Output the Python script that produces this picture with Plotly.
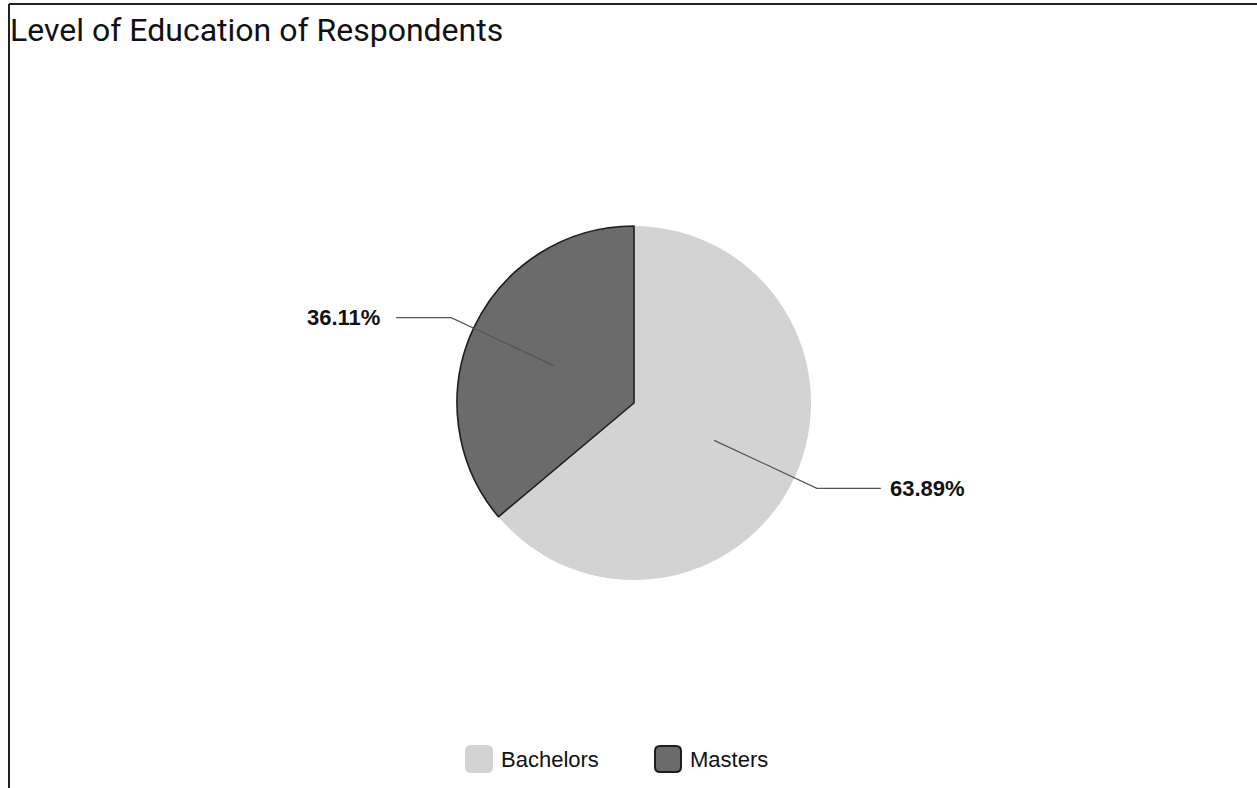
import math
import plotly.graph_objects as go

categories = ["Bachelors", "Masters"]
values = [63.89, 36.11]
colors = ["#d3d3d3", "#6b6b6b"]
outline_colors = ["#d3d3d3", "#1e1e1e"]

W, H = 1257, 788
cx, cy, R = 634, 403, 177  # pie centre / radius in px (layout)

def px_x(x):
    return x / W

def px_y(y):
    return 1 - y / H

fig = go.Figure()
fig.add_trace(go.Pie(
    labels=categories,
    values=values,
    sort=False,
    direction="clockwise",
    rotation=0,
    marker=dict(colors=colors, line=dict(color=outline_colors, width=[0, 1.6])),
    textinfo="none",
    hoverinfo="label+percent",
    showlegend=False,
    domain=dict(x=[px_x(cx - R), px_x(cx + R)], y=[px_y(cy + R), px_y(cy - R)]),
))

# leader lines + labels computed from the data
total = sum(values)
start = 90.0
shapes = []
annotations = []
for v in values:
    span = v / total * 360
    mid = math.radians(start - span / 2)
    start -= span
    x0 = cx + 0.5 * R * math.cos(mid)
    y0 = cy - 0.5 * R * math.sin(mid)
    x1 = cx + 1.14 * R * math.cos(mid)
    y1 = cy - 1.14 * R * math.sin(mid)
    side = 1 if math.cos(mid) >= 0 else -1
    x2 = x1 + side * (64 if side > 0 else 55)
    gap = 7 if side > 0 else 14
    path = f"M {px_x(x0)} {px_y(y0)} L {px_x(x1)} {px_y(y1)} L {px_x(x2)} {px_y(y1)}"
    shapes.append(dict(type="path", xref="paper", yref="paper", path=path,
                       line=dict(color="#555555", width=1.2)))
    annotations.append(dict(
        x=px_x(x2 + side * gap), y=px_y(y1), xref="paper", yref="paper",
        text=f"{v / total * 100:.2f}%", showarrow=False,
        xanchor="left" if side > 0 else "right", yanchor="middle",
        font=dict(family="Liberation Sans", size=22, color="#111111", weight="bold"),
    ))

# custom legend (large rounded swatches)
leg_y = 759
leg_x = [466, 655]
sw = 26
rr = 5
for lx, name, col, oc in zip(leg_x, categories, colors, outline_colors):
    x0, x1 = lx, lx + sw
    y0, y1 = leg_y - sw / 2, leg_y + sw / 2
    p = (f"M {px_x(x0 + rr)} {px_y(y0)} L {px_x(x1 - rr)} {px_y(y0)} "
         f"Q {px_x(x1)} {px_y(y0)} {px_x(x1)} {px_y(y0 + rr)} "
         f"L {px_x(x1)} {px_y(y1 - rr)} Q {px_x(x1)} {px_y(y1)} {px_x(x1 - rr)} {px_y(y1)} "
         f"L {px_x(x0 + rr)} {px_y(y1)} Q {px_x(x0)} {px_y(y1)} {px_x(x0)} {px_y(y1 - rr)} "
         f"L {px_x(x0)} {px_y(y0 + rr)} Q {px_x(x0)} {px_y(y0)} {px_x(x0 + rr)} {px_y(y0)} Z")
    shapes.append(dict(type="path", xref="paper", yref="paper", path=p, fillcolor=col,
                       line=dict(color=oc if oc != colors[0] else col, width=2)))
    annotations.append(dict(x=px_x(x1 + 7), y=px_y(leg_y), xref="paper", yref="paper",
                            text=name, showarrow=False, xanchor="left", yanchor="middle",
                            font=dict(family="Liberation Sans", size=22, color="#111111")))

# frame lines
shapes.append(dict(type="line", xref="paper", yref="paper", x0=px_x(9), x1=1, y0=px_y(4), y1=px_y(4),
                   line=dict(color="#222222", width=2)))
shapes.append(dict(type="line", xref="paper", yref="paper", x0=px_x(9), x1=px_x(9), y0=px_y(4), y1=0,
                   line=dict(color="#222222", width=2)))

fig.update_layout(
    width=W, height=H,
    margin=dict(l=0, r=0, t=0, b=0),
    paper_bgcolor="white",
    plot_bgcolor="white",
    title=dict(text="Level of Education of Respondents", x=px_x(10), xanchor="left",
               y=px_y(30), yanchor="middle", yref="container",
               font=dict(family="Roboto", size=32, color="#111111")),
    showlegend=False,
    shapes=shapes,
    annotations=annotations,
)

fig.write_html("out.html", config={"displayModeBar": False},
               post_script="document.body.style.margin='0px';")
